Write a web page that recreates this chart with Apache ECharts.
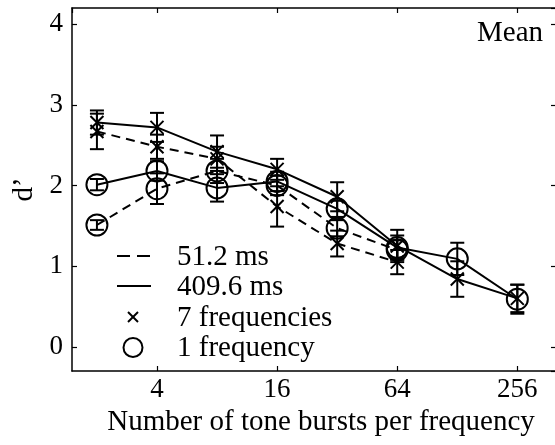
<!DOCTYPE html>
<html><head><meta charset="utf-8">
<script src="https://cdn.jsdelivr.net/npm/echarts@6/dist/echarts.min.js"></script>
<style>html,body{margin:0;padding:0;background:#fff}#c{width:555px;height:445px}</style>
</head><body><div id="c"></div>
<script>
// ---- data ----
const bursts = [2, 4, 8, 16, 32, 64, 128, 256];
const long7 = [2.78, 2.72, 2.42, 2.20, 1.86, 1.25, 0.84, 0.60];   // 409.6 ms, 7 frequencies
const long7Err = [0.15, 0.18, 0.20, 0.13, 0.18, 0.20, 0.22, 0.17];
const short7 = [2.67, 2.48, 2.33, 1.74, 1.28, 1.05];             // 51.2 ms, 7 frequencies
const short7Err = [0.22, 0.15, 0.15, 0.25, 0.16, 0.15];
const long1 = [2.01, 2.18, 1.97, 2.05, 1.71, 1.23, 1.09, 0.59];   // 409.6 ms, 1 frequency
const long1Err = [0.07, 0.12, 0.17, 0.12, 0.10, 0.15, 0.20, 0.18];
const short1 = [1.51, 1.96, 2.18, 2.00, 1.47, 1.20];             // 51.2 ms, 1 frequency
const short1Err = [0.06, 0.19, 0.15, 0.12, 0.10, 0.12];
const legendLabels = ['51.2 ms', '409.6 ms', '7 frequencies', '1 frequency'];
const xName = 'Number of tone bursts per frequency';
const yName = 'd\u2019';
const panelLabel = 'Mean';

const FONT = '"Liberation Serif", "DejaVu Serif", serif';
const crossPath = 'path://M0,0L10,10M10,0L0,10';
const DASH = [9, 6];

function pts(vals) { return vals.map((v, i) => [bursts[i], v]); }
function errPts(vals, errs) { return vals.map((v, i) => [bursts[i], v, errs[i]]); }

function errRender(params, api) {
  const x = api.value(0), y = api.value(1), e = api.value(2);
  const hi = api.coord([x, y + e]), lo = api.coord([x, y - e]);
  const w = 7;
  const st = { stroke: '#000', lineWidth: 2 };
  return { type: 'group', children: [
    { type: 'line', shape: { x1: hi[0], y1: hi[1], x2: lo[0], y2: lo[1] }, style: st },
    { type: 'line', shape: { x1: hi[0] - w, y1: hi[1], x2: hi[0] + w, y2: hi[1] }, style: st },
    { type: 'line', shape: { x1: lo[0] - w, y1: lo[1], x2: lo[0] + w, y2: lo[1] }, style: st }
  ]};
}

function lineSeries(vals, dashed, symbol) {
  const isCross = symbol === 'cross';
  return {
    type: 'line', data: pts(vals), xAxisIndex: 0, yAxisIndex: 0,
    symbol: isCross ? crossPath : 'circle',
    symbolSize: isCross ? 13 : 21,
    showSymbol: true, silent: true, animation: false,
    lineStyle: { color: '#000', width: 2, type: dashed ? DASH : 'solid' },
    itemStyle: { color: isCross ? '#000' : 'rgba(0,0,0,0)', borderColor: '#000', borderWidth: 2 },
    z: 3
  };
}
function errSeries(vals, errs) {
  return {
    type: 'custom', data: errPts(vals, errs), renderItem: errRender,
    encode: { x: 0, y: 1 }, silent: true, animation: false, z: 4
  };
}

const axisLine = { show: true, onZero: false, lineStyle: { color: '#000', width: 1.5 } };
const tick = { show: true, inside: true, length: 5, lineStyle: { color: '#000', width: 1.2 } };

const chart = echarts.init(document.getElementById('c'), null, { renderer: 'canvas' });
chart.setOption({
  animation: false,
  backgroundColor: '#fff',
  grid: { left: 72, top: 8, width: 484, height: 363, containLabel: false, outerBoundsMode: 'none' },
  xAxis: [
    { type: 'log', logBase: 4, min: 1.5, max: 400, position: 'bottom',
      axisLine, axisTick: tick, splitLine: { show: false }, minorTick: { show: false },
      axisLabel: { color: '#000', fontSize: 27, fontFamily: FONT, margin: 5, showMinLabel: false, showMaxLabel: false,
        formatter: v => String(Math.round(v)) },
      name: xName, nameLocation: 'middle', nameGap: 30,
      nameTextStyle: { color: '#000', fontSize: 29, fontFamily: FONT, lineHeight: 29, padding: [0, 0, 0, 14] } },
    { type: 'log', logBase: 4, min: 1.5, max: 400, position: 'top',
      axisLine, axisTick: tick, splitLine: { show: false }, axisLabel: { show: false } }
  ],
  yAxis: [
    { type: 'value', min: -0.3, max: 4.2, position: 'left',
      axisLine, axisTick: tick, splitLine: { show: false },
      axisLabel: { color: '#000', fontSize: 27, fontFamily: FONT, margin: 9, showMinLabel: false, showMaxLabel: false },
      name: yName, nameLocation: 'middle', nameGap: 33, nameRotate: 90,
      nameTextStyle: { color: '#000', fontSize: 29, fontFamily: FONT, lineHeight: 29 } },
    { type: 'value', min: -0.3, max: 4.2, position: 'right',
      axisLine, axisTick: tick, splitLine: { show: false }, axisLabel: { show: false } }
  ],
  series: [
    errSeries(short7, short7Err), errSeries(long7, long7Err),
    errSeries(short1, short1Err), errSeries(long1, long1Err),
    lineSeries(short7, true, 'cross'), lineSeries(long7, false, 'cross'),
    lineSeries(short1, true, 'circle'), lineSeries(long1, false, 'circle')
  ],
  graphic: [
    { type: 'text', x: 543, y: 33, style: { text: panelLabel, fill: '#000', font: '29px ' + FONT, textAlign: 'right', textVerticalAlign: 'middle' } },
    { type: 'line', shape: { x1: 117, y1: 256, x2: 151, y2: 256 }, style: { stroke: '#000', lineWidth: 2, lineDash: [13, 7] } },
    { type: 'line', shape: { x1: 117, y1: 286, x2: 151, y2: 286 }, style: { stroke: '#000', lineWidth: 2 } },
    { type: 'line', shape: { x1: 128, y1: 312, x2: 138, y2: 322 }, style: { stroke: '#000', lineWidth: 2 } },
    { type: 'line', shape: { x1: 138, y1: 312, x2: 128, y2: 322 }, style: { stroke: '#000', lineWidth: 2 } },
    { type: 'circle', shape: { cx: 133, cy: 347.5, r: 9.5 }, style: { fill: 'none', stroke: '#000', lineWidth: 2 } },
    { type: 'text', x: 177, y: 257, style: { text: legendLabels[0], fill: '#000', font: '29px ' + FONT, textVerticalAlign: 'middle' } },
    { type: 'text', x: 177, y: 287, style: { text: legendLabels[1], fill: '#000', font: '29px ' + FONT, textVerticalAlign: 'middle' } },
    { type: 'text', x: 177, y: 318, style: { text: legendLabels[2], fill: '#000', font: '29px ' + FONT, textVerticalAlign: 'middle' } },
    { type: 'text', x: 177, y: 348, style: { text: legendLabels[3], fill: '#000', font: '29px ' + FONT, textVerticalAlign: 'middle' } }
  ]
});
</script></body></html>
